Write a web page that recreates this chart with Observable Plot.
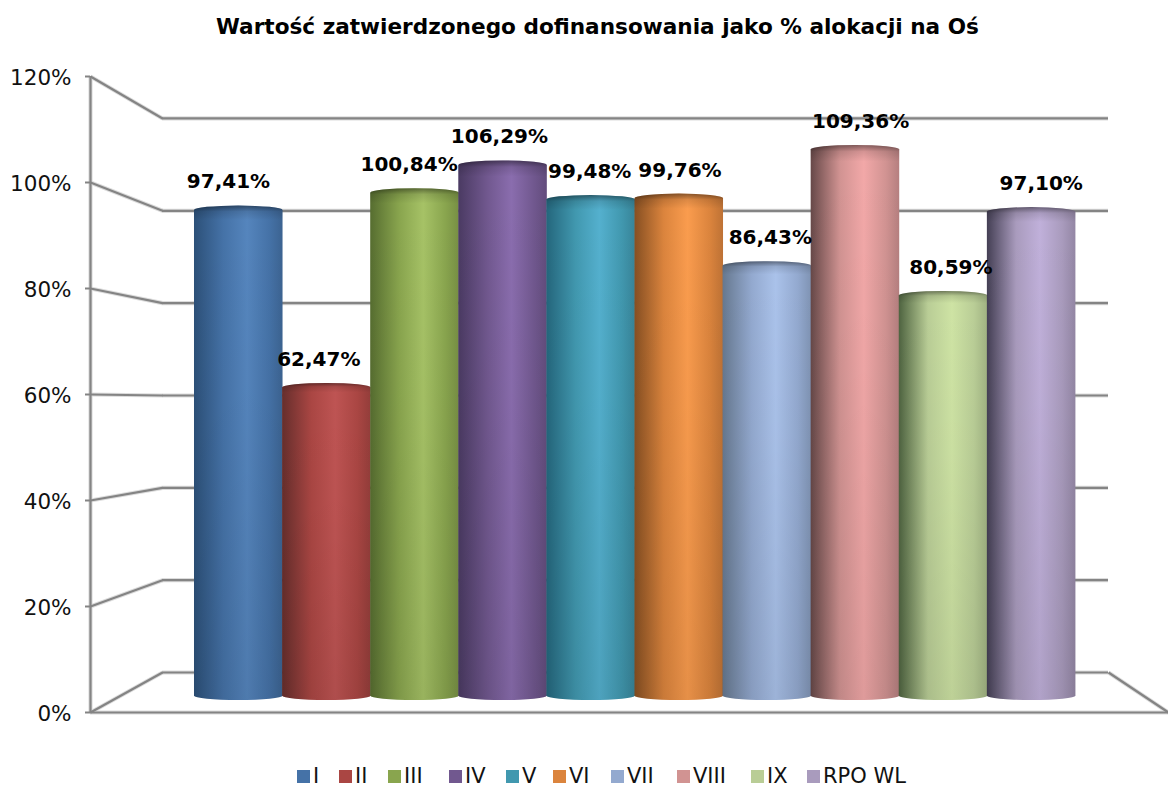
<!DOCTYPE html>
<html><head><meta charset="utf-8">
<script src="https://cdn.jsdelivr.net/npm/d3@7"></script>
<script src="https://cdn.jsdelivr.net/npm/@observablehq/plot@0.6"></script>
<style>
html,body{margin:0;padding:0;background:#fff;overflow:hidden}
#title{height:50px;text-align:center;font:bold 21.6px/54px "DejaVu Sans";color:#000;padding-left:27px;box-sizing:border-box;width:1168px;white-space:nowrap}
#chart svg{display:block;overflow:visible}
#legend{position:absolute;top:767px;left:297px;font:21px/19px "DejaVu Sans";color:#111;white-space:nowrap;height:19px}
#legend span.i{position:absolute;top:0;display:flex;align-items:center;height:19px}
#legend i{display:inline-block;width:13px;height:13px;margin-right:3px}
</style></head><body>
<div id="title">Wartość zatwierdzonego dofinansowania jako % alokacji na Oś</div>
<div id="chart"></div>
<div id="legend"></div>
<script>
// ---- data
const categories = ["I","II","III","IV","V","VI","VII","VIII","IX","RPO WL"];
const values = [97.41,62.47,100.84,106.29,99.48,99.76,86.43,109.36,80.59,97.10];
const axisTicks = [0,20,40,60,80,100,120];
const colors = ["#4572A7","#AA4643","#89A54E","#71588F","#4198AF","#DB843D","#93A9CF","#D19392","#B9CD96","#A99BBD"];
const lights = ["#5585BD","#BE5453","#A6C266","#8A6DAE","#54B0CE","#FA9C4E","#AAC2EA","#F2A8A8","#CEE3A4","#C0B0DA"];
const edges  = ["#2C5078","#662E2C","#566D30","#4A3A62","#24667C","#864F22","#66788F","#664848","#4E6340","#443F54"];
const legendLeft = [297,339,388,449,506,553,611,677,751,807];

// ---- oblique projection of the 3-D box onto the front value scale
const front = 5.3, bar = 5.076, back = 4.617;
const barY  = v => (12 + bar * v) / front;
const backY = v => (40 + back * v) / front;
const edgeL = -1.1805, wallL = -0.363, wallR = 10.375, edgeR = 11.056;
const labelX = i => 0.386 + 1.025 * i;

const rows = categories.map((name,i) => ({name, value:values[i], i}));
const label = v => v.toFixed(2).replace(".",",") + "%";
const line = {stroke:"#848484", strokeWidth:2.2};
const halo = {stroke:"#dcdcdc", strokeWidth:4.2};
const axisFont = {fontSize:21.5, fontFamily:"DejaVu Sans"};

const plot = Plot.plot({
  width:1168, height:700, marginLeft:90, marginRight:0, marginTop:26, marginBottom:38,
  x:{domain:[edgeL,edgeR], axis:null},
  y:{domain:[0,120], axis:null},
  color:{type:"identity"},
  style:{background:"transparent", overflow:"visible"},
  marks:[
    ...[halo,line].flatMap(s => [
      Plot.ruleY(axisTicks.map(backY), {x1:()=>wallL, x2:()=>wallR, ...s}),
      Plot.link(axisTicks, {x1:()=>edgeL, x2:()=>wallL, y1:d=>d, y2:d=>backY(d), ...s}),
      Plot.link([0], {x1:()=>wallR, x2:()=>edgeR, y1:d=>backY(d), y2:d=>d, ...s}),
      Plot.ruleY([0], {x1:()=>edgeL, x2:()=>edgeR, ...s}),
      Plot.ruleX([edgeL], {y1:()=>0, y2:()=>120, ...s})
    ]),
    Plot.axisY({ticks:axisTicks, text:null, tickSize:5, stroke:"#848484", strokeWidth:2, label:null, anchor:"left"}),
    Plot.axisY({ticks:axisTicks, tickFormat:d=>d+"%", tickSize:0, tickPadding:19, dy:2, fill:"#111", label:null, anchor:"left", ...axisFont}),
    Plot.rect(rows, {x1:d=>d.i, x2:d=>d.i+1.005, y1:()=>barY(0), y2:d=>barY(d.value),
      fill:d=>`url(#g${d.i})`, rx:44, ry:4.5}),
    Plot.rect(rows, {x1:d=>d.i, x2:d=>d.i+1.005, y1:()=>barY(0), y2:d=>barY(d.value),
      fill:()=>"url(#cap)", rx:44, ry:4.5}),
    Plot.text(rows, {x:d=>labelX(d.i), y:d=>barY(d.value), dy:-24, text:d=>label(d.value),
      fontWeight:"bold", fontSize:20, fontFamily:"DejaVu Sans", fill:"#000", textAnchor:"middle", lineAnchor:"middle"})
  ]
});

// gradients referenced by the bars
const NS = "http://www.w3.org/2000/svg";
const defs = document.createElementNS(NS,"defs");
const grad = (id,vertical,stops) => {
  const g = document.createElementNS(NS,"linearGradient");
  g.setAttribute("id",id);
  g.setAttribute("x1","0"); g.setAttribute("y1","0");
  g.setAttribute("x2",vertical?"0":"1"); g.setAttribute("y2",vertical?"1":"0");
  for (const [o,c,a] of stops) {
    const s = document.createElementNS(NS,"stop");
    s.setAttribute("offset",o); s.setAttribute("stop-color",c);
    if (a!==undefined) s.setAttribute("stop-opacity",a);
    g.appendChild(s);
  }
  defs.appendChild(g);
};
colors.forEach((c,i)=>grad("g"+i,false,[[0,edges[i]],[.33,c],[.6,lights[i]],[.85,c],[1,d3.color(c).darker(.4).formatHex()]]));
grad("cap",true,[[0,"#000",.45],[.012,"#000",.12],[.03,"#000",0],[.4,"#000",.02],[1,"#000",.08]]);
plot.insertBefore(defs,plot.firstChild);
document.getElementById("chart").appendChild(plot);

// legend
const lg = document.getElementById("legend");
categories.forEach((n,i)=>{
  const s=document.createElement("span"); s.className="i";
  s.style.left=(legendLeft[i]-297)+"px";
  const k=document.createElement("i"); k.style.background=colors[i];
  s.appendChild(k); s.appendChild(document.createTextNode(n)); lg.appendChild(s);
});
</script>
</body></html>
